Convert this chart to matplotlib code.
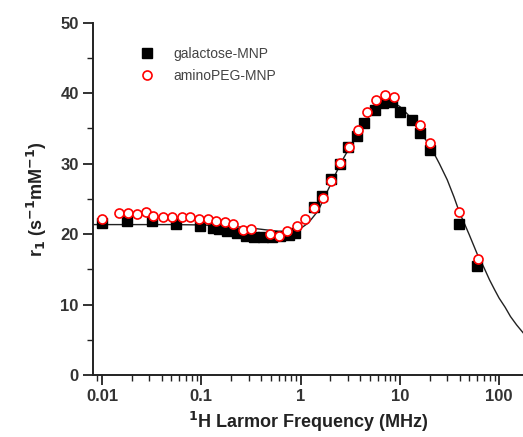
import numpy as np
import matplotlib
matplotlib.use('Agg')
import matplotlib.pyplot as plt
from matplotlib.ticker import LogLocator, NullFormatter, MultipleLocator

plt.rcParams['font.family'] = ['Liberation Sans', 'DejaVu Sans']

# galactose-MNP (black squares)
gal_f = [0.01, 0.0177, 0.0316, 0.0556, 0.0973, 0.13, 0.15, 0.18, 0.23, 0.28,
         0.34, 0.42, 0.52, 0.62, 0.76, 0.87, 1.36, 1.63, 2.03, 2.5,
         3.02, 3.67, 4.4, 5.6, 6.8, 8.3, 10.0, 13.1, 15.9, 20.1,
         39.6, 60.2]
gal_r = [21.6, 21.9, 21.9, 21.4, 21.2, 20.9, 20.7, 20.5, 20.1, 19.7,
         19.6, 19.6, 19.6, 19.7, 19.9, 20.2, 23.9, 25.4, 27.8, 30.0,
         32.4, 33.9, 35.8, 37.6, 38.6, 38.7, 37.4, 36.2, 34.4, 31.9,
         21.4, 15.5]

# aminoPEG-MNP (red open circles)
peg_f = [0.01, 0.0149, 0.0181, 0.0223, 0.0277, 0.0329, 0.0408, 0.0502, 0.0635, 0.077,
         0.095, 0.116, 0.141, 0.173, 0.209, 0.26, 0.32, 0.49, 0.6, 0.73,
         0.91, 1.12, 1.36, 1.7, 2.04, 2.52, 3.1, 3.8, 4.66, 5.7,
         7.0, 8.7, 16.1, 19.9, 39.6, 61.0]
peg_r = [22.2, 23.0, 23.0, 22.9, 23.2, 22.5, 22.4, 22.4, 22.4, 22.4,
         22.2, 22.1, 21.9, 21.7, 21.5, 20.6, 20.7, 20.0, 19.7, 20.4,
         21.1, 22.2, 23.7, 25.1, 27.5, 30.1, 32.4, 34.8, 37.3, 39.1,
         39.8, 39.4, 35.5, 33.0, 23.1, 16.4]

# fitted curve
fit_f = [0.00806, 0.05, 0.1, 0.2, 0.3, 0.45, 0.6, 0.75, 0.9, 1.0,
         1.2, 1.5, 1.75, 2.0, 2.5, 3.0, 4.0, 5.0, 6.0, 7.0,
         8.0, 9.0, 10.0, 12.0, 15.0, 20.0, 25.0, 30.0, 35.0, 40.0,
         45.0, 50.0, 60.0, 70.0, 80.0, 90.0, 100.0, 115.0, 130.0, 150.0,
         174.0]
fit_r = [21.35, 21.35, 21.3, 21.1, 20.9, 20.6, 20.4, 20.4, 20.6, 20.8,
         21.6, 23.3, 25.3, 27.0, 29.9, 31.9, 34.9, 36.9, 38.1, 38.6,
         38.7, 38.5, 38.1, 37.0, 35.0, 32.6, 30.0, 27.7, 25.3, 23.0,
         21.4, 19.9, 17.2, 15.3, 13.5, 12.1, 10.9, 9.6, 8.3, 7.1,
         6.0]

fig = plt.figure(figsize=(5.23, 4.37), dpi=100)
ax = fig.add_axes([0.1773, 0.1419, 0.8228, 0.806])

ax.plot(fit_f, fit_r, color='#222222', lw=1.0, zorder=2)
ax.plot(gal_f, gal_r, 's', color='black', ms=6.5, zorder=3, label='galactose-MNP')
ax.plot(peg_f, peg_r, 'o', mfc='white', mec='red', mew=1.2, ms=6.5, zorder=4,
        label='aminoPEG-MNP')

ax.set_xscale('log')
ax.set_xlim(0.00806, 174)
ax.set_ylim(0, 50)

ax.spines['top'].set_visible(False)
ax.spines['right'].set_visible(False)
for s in ['left', 'bottom']:
    ax.spines[s].set_linewidth(1.4)
    ax.spines[s].set_color('#222222')

ax.set_xticks([0.01, 0.1, 1, 10, 100])
ax.set_xticklabels(['0.01', '0.1', '1', '10', '100'])
ax.xaxis.set_minor_locator(LogLocator(base=10, subs=np.arange(2, 10), numticks=20))
ax.xaxis.set_minor_formatter(NullFormatter())
ax.yaxis.set_major_locator(MultipleLocator(10))
ax.yaxis.set_minor_locator(MultipleLocator(5))

ax.tick_params(which='major', direction='out', length=7, width=1.3, colors='#222222',
               labelsize=12, pad=3)
ax.tick_params(which='minor', direction='out', length=4, width=1.0, colors='#222222')
for lab in ax.get_xticklabels() + ax.get_yticklabels():
    lab.set_fontweight('bold')
    lab.set_color('#333333')

ax.set_xlabel(r'$^{\mathbf{1}}$H Larmor Frequency (MHz)', fontsize=13,
              fontweight='bold', color='#222222', labelpad=4)
ax.set_ylabel(r'r$_{\mathbf{1}}$ (s$^{\mathbf{-1}}$mM$^{\mathbf{-1}}$)', fontsize=13,
              fontweight='bold', color='#222222', labelpad=8)

leg = ax.legend(loc='upper left', bbox_to_anchor=(0.08, 0.967), frameon=False,
                handlelength=1.0, handletextpad=1.4, labelspacing=0.6,
                prop={'size': 10})
for t in leg.get_texts():
    t.set_color('#444444')

fig.savefig('out.png', dpi=100)
